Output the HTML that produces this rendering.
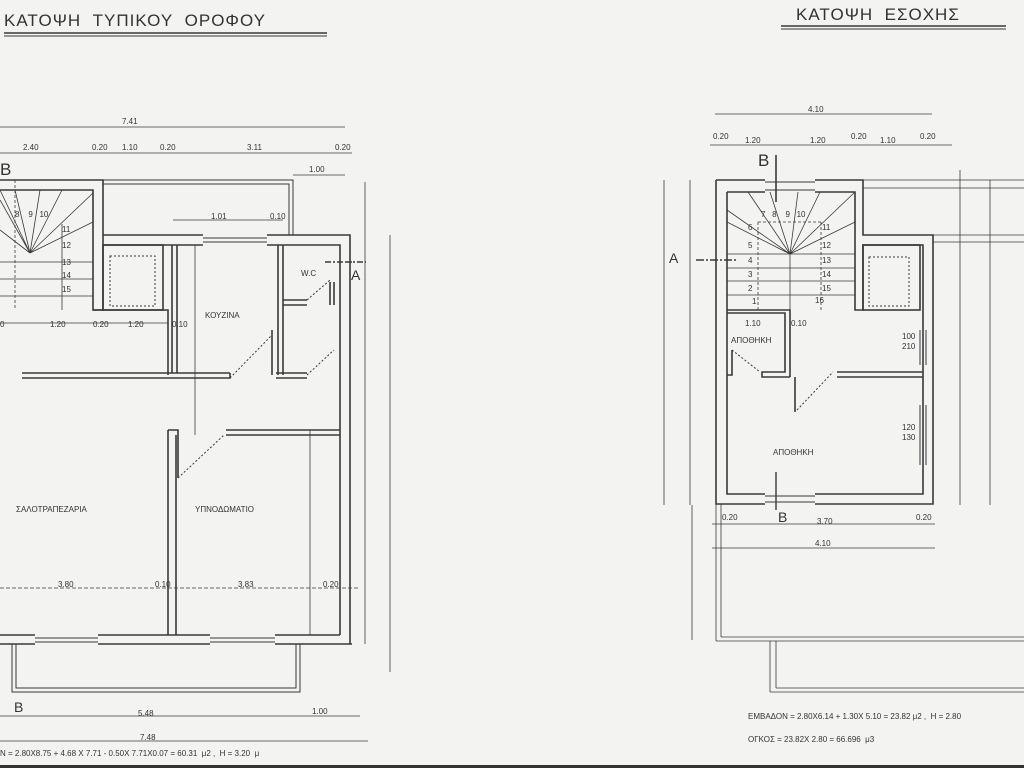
<!DOCTYPE html>
<html><head><meta charset="utf-8"><style>
html,body{margin:0;padding:0;background:#f3f3f1;}
svg{display:block}
text{font-family:"Liberation Sans",sans-serif;fill:#333}
</style></head><body>
<svg width="1024" height="768" viewBox="0 0 1024 768" xmlns="http://www.w3.org/2000/svg">
<rect width="1024" height="768" fill="#f3f3f1"/>
<g stroke="#3a3a3a" fill="none" stroke-width="1.6">
<text x="4" y="26" font-size="17" stroke="none" letter-spacing="1">ΚΑΤΟΨΗ&#160;&#160;ΤΥΠΙΚΟΥ&#160;&#160;ΟΡΟΦΟΥ</text>
<line x1="4" y1="33" x2="327" y2="33"/><line x1="4" y1="36" x2="327" y2="36" stroke-width="1"/>
<text x="796" y="20" font-size="17" stroke="none" letter-spacing="1">ΚΑΤΟΨΗ&#160;&#160;ΕΣΟΧΗΣ</text>
<line x1="781" y1="26" x2="1006" y2="26"/><line x1="781" y1="29" x2="1006" y2="29" stroke-width="1"/>

<!-- LEFT PLAN -->
<path d="M0 180 H103 V310 H93 V190 H0"/>
<path d="M103 180 H293 V235" stroke-width="1"/><path d="M103 184 H289 V235" stroke-width="1"/>
<path d="M103 235 H203 M267 235 H350 V644 M103 245 H203 M267 245 H340 V635"/>
<path d="M203 238 H267 M203 242 H267" stroke-width="1"/>
<rect x="103" y="245" width="60" height="65"/>
<rect x="110" y="256" width="45" height="50" stroke-dasharray="2 2" stroke-width="1"/>
<path d="M93 310 H168 V375"/>
<path d="M172 245 V373 M177 245 V373 M278 245 V375 M283 245 V375"/>
<path d="M22 373 H230 M22 378 H230 V373"/>
<path d="M276 373 H307 M276 378 H307"/>
<path d="M283 300 H307 M283 305 H307 M330 282 V305 M334 282 V305"/>
<path d="M307 300 L330 280 M307 375 L334 350 M230 378 L272 335" stroke-dasharray="2 2" stroke-width="1"/>
<line x1="272" y1="330" x2="272" y2="375"/>
<path d="M226 430 H340 M226 435 H340"/>
<path d="M168 430 V635 M176 435 V635 M168 430 H178 V478"/>
<path d="M178 478 L224 435" stroke-dasharray="2 2" stroke-width="1"/>
<path d="M0 635 H35 M98 635 H210 M275 635 H340 M0 644 H35 M98 644 H210 M275 644 H352"/>
<path d="M35 638 H98 M35 642 H98 M210 638 H275 M210 642 H275" stroke-width="1"/>
<path d="M12 644 V692 H300 V644 M16 644 V688 H296 V644" stroke-width="1"/>
<g stroke-width="0.8">
<path d="M30 253 L0 200 M30 253 L0 190 M30 253 L15 190 M30 253 L40 190 M30 253 L62 190 M30 253 L93 193 M30 253 L93 222 M30 253 L0 230"/>
<path d="M0 262 H93 M0 279 H93 M0 296 H93 M62 224 V310" />
<path d="M15 180 V310" stroke-dasharray="3 2"/>
</g>
<text x="0" y="175" font-size="17" stroke="none">B</text>
<text x="15" y="217" font-size="8" stroke="none">8&#160;&#160;&#160;&#160;9&#160;&#160;&#160;10</text>
<text x="62" y="232" font-size="8" stroke="none">11</text>
<text x="62" y="248" font-size="8" stroke="none">12</text>
<text x="62" y="265" font-size="8" stroke="none">13</text>
<text x="62" y="278" font-size="8" stroke="none">14</text>
<text x="62" y="292" font-size="8" stroke="none">15</text>
<g stroke-width="0.8">
<line x1="0" y1="127" x2="345" y2="127"/><line x1="0" y1="153" x2="352" y2="153"/>
<line x1="293" y1="175" x2="345" y2="175"/>
<line x1="365" y1="182" x2="365" y2="644"/><line x1="390" y1="235" x2="390" y2="672"/>
<line x1="0" y1="323" x2="168" y2="323"/>
<line x1="0" y1="588" x2="360" y2="588" stroke-dasharray="4 2"/>
<line x1="0" y1="716" x2="360" y2="716"/><line x1="0" y1="741" x2="368" y2="741"/>
<line x1="195" y1="245" x2="195" y2="435"/><line x1="310" y1="430" x2="310" y2="635"/>
<line x1="173" y1="220" x2="283" y2="220"/>
<path d="M325 262 H352 M345 262 H366" stroke-dasharray="6 2 2 2" stroke-width="1.6"/>
</g>
<g stroke="none" font-size="8">
<text x="122" y="124">7.41</text><text x="23" y="150">2.40</text><text x="92" y="150">0.20</text><text x="122" y="150">1.10</text><text x="160" y="150">0.20</text><text x="247" y="150">3.11</text><text x="335" y="150">0.20</text>
<text x="309" y="172">1.00</text><text x="211" y="219">1.01</text><text x="270" y="219">0.10</text>
<text x="0" y="327">0</text><text x="50" y="327">1.20</text><text x="93" y="327">0.20</text><text x="128" y="327">1.20</text><text x="172" y="327">0.10</text>
<text x="205" y="318">ΚΟΥΖΙΝΑ</text><text x="301" y="276">W.C</text>
<text x="16" y="512">ΣΑΛΟΤΡΑΠΕΖΑΡΙΑ</text><text x="195" y="512">ΥΠΝΟΔΩΜΑΤΙΟ</text>
<text x="58" y="587">3.80</text><text x="155" y="587">0.10</text><text x="238" y="587">3.83</text><text x="323" y="587">0.20</text>
<text x="138" y="716">5.48</text><text x="312" y="714">1.00</text><text x="140" y="740">7.48</text>
<text x="0" y="756">N = 2.80X8.75 + 4.68 X 7.71 - 0.50X 7.71X0.07 = 60.31&#160;&#160;μ2 ,&#160;&#160;H = 3.20&#160;&#160;μ</text>
<text x="351" y="280" font-size="14">A</text>
<text x="14" y="712" font-size="14">B</text>
</g>

<!-- RIGHT PLAN -->
<path d="M716 180 H765 M815 180 H863 V235 H933 V504 H815 M765 504 H716 V180"/>
<path d="M727 192 H765 M815 192 H855 V310 H863 V245 H923 V494 H815 M765 494 H727 V192"/>
<path d="M765 182 H815 M765 190 H815 M765 502 H815 M765 496 H815" stroke-width="1"/>
<rect x="863" y="245" width="57" height="65"/>
<rect x="869" y="257" width="40" height="49" stroke-dasharray="2 2" stroke-width="1"/>
<path d="M727 310 H790 V377 M727 313 H785 V372 H762 V377 H790 M837 372 H923 M837 377 H923"/>
<path d="M727 375 H732 V350 M795 377 V412"/>
<path d="M732 350 L760 372 M797 410 L833 372" stroke-dasharray="2 2" stroke-width="1"/>
<path d="M920 330 V365 M926 330 V365 M920 405 V465 M926 405 V465" stroke-width="1"/>
<g stroke-width="0.8">
<path d="M790 254 L727 222 M790 254 L727 210 M790 254 L748 192 M790 254 L770 192 M790 254 L798 192 M790 254 L820 192 M790 254 L855 192 M790 254 L855 222"/>
<path d="M727 254 H855 M727 268 H855 M727 281 H855 M727 295 H855 M790 254 V313"/>
<path d="M758 222 V310 M821 222 V310 M758 222 H821" stroke-dasharray="3 2"/>
<path d="M776 155 V202" stroke-width="1.6"/>
<path d="M696 260 H738" stroke-width="1.6" stroke-dasharray="8 2 2 2"/>
<path d="M776 472 V510" stroke-width="1.4"/>
</g>
<g stroke-width="0.8">
<line x1="715" y1="114" x2="932" y2="114"/><line x1="710" y1="145" x2="952" y2="145"/>
<line x1="664" y1="180" x2="664" y2="505"/><line x1="690" y1="180" x2="690" y2="505"/>
<line x1="960" y1="170" x2="960" y2="505"/><line x1="990" y1="180" x2="990" y2="505"/>
<line x1="712" y1="524" x2="935" y2="524"/><line x1="712" y1="548" x2="935" y2="548"/>
<line x1="692" y1="505" x2="692" y2="640"/>
<line x1="863" y1="180" x2="1024" y2="180"/><line x1="863" y1="188" x2="1024" y2="188"/>
<line x1="933" y1="235" x2="1024" y2="235"/><line x1="933" y1="242" x2="1024" y2="242"/>
<line x1="716" y1="504" x2="716" y2="641"/><line x1="721" y1="504" x2="721" y2="637"/>
<line x1="716" y1="641" x2="1024" y2="641"/><line x1="721" y1="637" x2="1024" y2="637"/>
<line x1="770" y1="641" x2="770" y2="692"/><line x1="776" y1="641" x2="776" y2="688"/>
<line x1="770" y1="692" x2="1024" y2="692"/><line x1="776" y1="688" x2="1024" y2="688"/>
</g>
<g stroke="none" font-size="8">
<text x="808" y="112">4.10</text>
<text x="713" y="139">0.20</text><text x="745" y="143">1.20</text><text x="810" y="143">1.20</text><text x="851" y="139">0.20</text><text x="880" y="143">1.10</text><text x="920" y="139">0.20</text>
<text x="758" y="166" font-size="17">B</text>
<text x="669" y="263" font-size="14">A</text>
<text x="761" y="217">7&#160;&#160;&#160;8&#160;&#160;&#160;&#160;9&#160;&#160;&#160;10</text>
<text x="748" y="230">6</text><text x="822" y="230">11</text>
<text x="748" y="248">5</text><text x="822" y="248">12</text>
<text x="748" y="263">4</text><text x="822" y="263">13</text>
<text x="748" y="277">3</text><text x="822" y="277">14</text>
<text x="748" y="291">2</text><text x="822" y="291">15</text>
<text x="752" y="304">1</text><text x="815" y="303">16</text>
<text x="745" y="326">1.10</text><text x="791" y="326">0.10</text>
<text x="731" y="343">ΑΠΟΘΗΚΗ</text>
<text x="773" y="455">ΑΠΟΘΗΚΗ</text>
<text x="902" y="339">100</text><text x="902" y="349">210</text>
<text x="902" y="430">120</text><text x="902" y="440">130</text>
<text x="778" y="522" font-size="14">B</text>
<text x="722" y="520">0.20</text><text x="817" y="524">3.70</text><text x="916" y="520">0.20</text>
<text x="815" y="546">4.10</text>
<text x="748" y="719">ΕΜΒΑΔΟΝ = 2.80X6.14 + 1.30X 5.10 = 23.82 μ2 ,&#160;&#160;H = 2.80</text>
<text x="748" y="742">ΟΓΚΟΣ = 23.82X 2.80 = 66.696&#160;&#160;μ3</text>
</g>
</g>
<rect x="0" y="765" width="1024" height="3" fill="#333"/>
</svg>
</body></html>
